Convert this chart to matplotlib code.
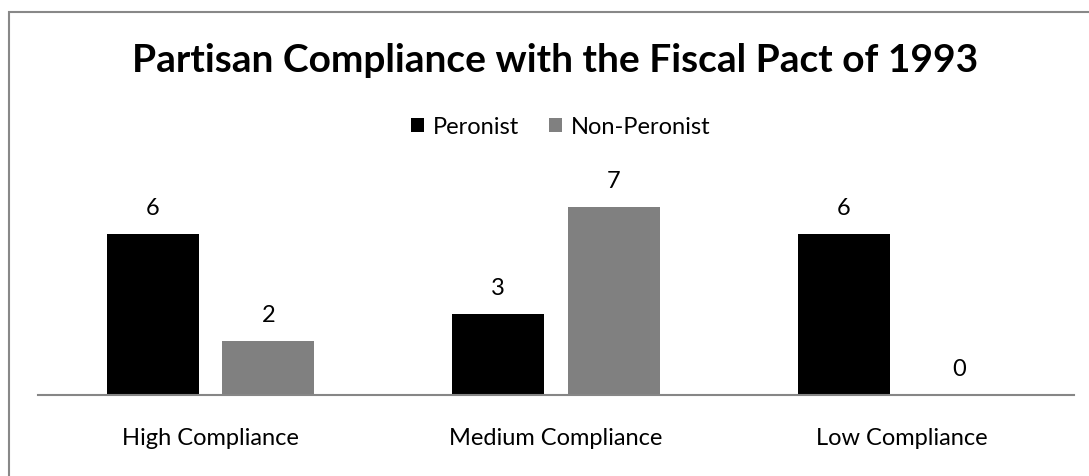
import numpy as np
import matplotlib.pyplot as plt
from matplotlib.patches import Rectangle

plt.rcParams['font.family'] = ['Lato', 'DejaVu Sans']

categories = ["High Compliance", "Medium Compliance", "Low Compliance"]
peronist = [6, 3, 6]
non_peronist = [2, 7, 0]

W, H = 1089, 476
fig = plt.figure(figsize=(W / 100, H / 100), dpi=100)


def fy(py):
    # pixel row measured from the top -> figure fraction
    return (H - py) / H


# outer chart frame (its right and bottom edges fall outside the canvas)
fig.patches.append(Rectangle((9 / W, fy(500)), 1100 / W, (500 - 11.5) / H,
                             transform=fig.transFigure, fill=False,
                             edgecolor='#888888', linewidth=1.5))

# plot area: x 38..1074 px, y 180..395 px from the top
ax = fig.add_axes([38 / W, fy(395), (1074 - 38) / W, (395 - 180) / H])
x = np.arange(len(categories))
width = 0.266
off = 0.167
b1 = ax.bar(x - off, peronist, width, color='black', label='Peronist')
b2 = ax.bar(x + off, non_peronist, width, color='#808080', label='Non-Peronist')

for bars, vals in ((b1, peronist), (b2, non_peronist)):
    for rect, v in zip(bars, vals):
        ax.text(rect.get_x() + rect.get_width() / 2, v + 0.71, str(v),
                ha='center', va='baseline', fontsize=17)

ax.set_xlim(-0.5, 2.5)
ax.set_ylim(0, 8)
for s in ('top', 'right', 'left'):
    ax.spines[s].set_visible(False)
ax.spines['bottom'].set_color('#868686')
ax.spines['bottom'].set_linewidth(1.5)
ax.set_yticks([])
ax.set_xticks(x)
ax.set_xticklabels(categories, fontsize=17)
ax.tick_params(axis='x', length=0, pad=24)

fig.text(555 / W, fy(72), "Partisan Compliance with the Fiscal Pact of 1993",
         ha='center', va='baseline', fontsize=28, fontweight='bold')

fig.legend(handles=[b1, b2], loc='center', bbox_to_anchor=(561 / W, fy(127)),
           ncol=2, frameon=False, fontsize=17, handlelength=0.55, handleheight=0.55,
           handletextpad=0.38, columnspacing=1.27, borderpad=0)

fig.savefig('out.png', dpi=100)
